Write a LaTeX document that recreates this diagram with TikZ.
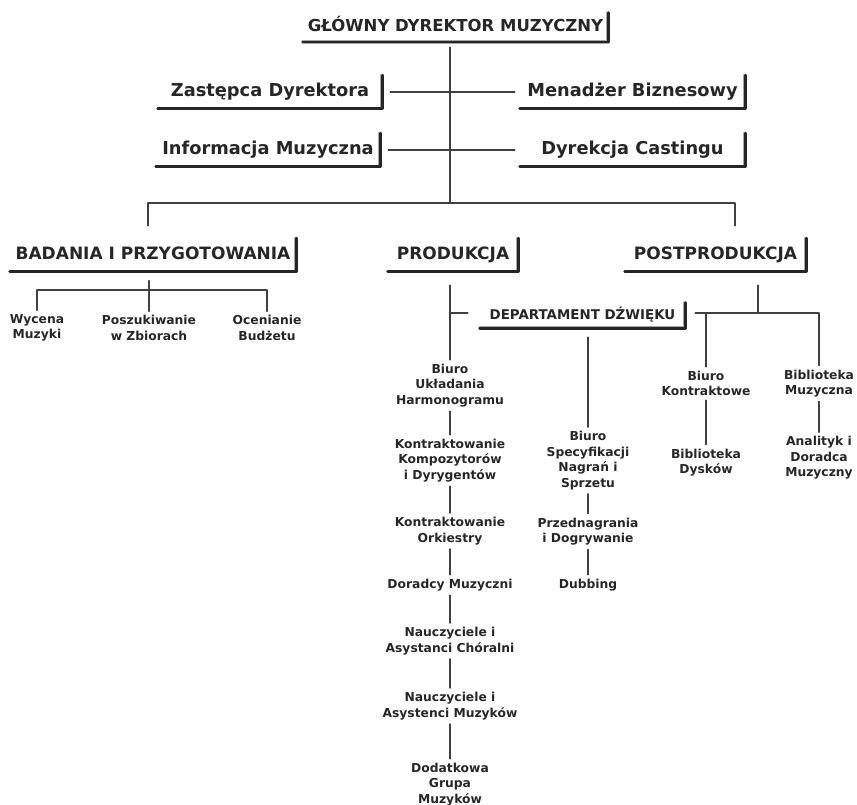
\documentclass[tikz,border=0pt]{standalone}
\usepackage{fontspec}
\setmainfont{DejaVu Sans}
\usepackage{tikz}

\tikzset{
  kafel/.style={font=\bfseries\fontsize{17}{20}\selectfont, text=black!85, inner sep=0pt,
    minimum height=33pt, text height=12.9pt, text depth=4pt},
  maly/.style={font=\bfseries\fontsize{12.3}{15.5}\selectfont, text=black!85, align=center, inner sep=4pt},
  lacz/.style={line width=1.4pt, black!75},
  belka/.style={line width=2.6pt, black!85},
  cien/.style={line width=3.5pt, black!35, xshift=1.5pt, yshift=-2.2pt},
}

\begin{document}
\begin{tikzpicture}[line cap=round,line join=round,x=1pt,y=-1pt]
\useasboundingbox (0,0) rectangle (857,805);
%top of the chart
\node[kafel,minimum width=305pt,minimum height=29pt,font=\bfseries\fontsize{16.5}{20}\selectfont] (gdm) at (455.5,27.5) {GŁÓWNY DYREKTOR MUZYCZNY};
\node[kafel,minimum width=224pt,font=\bfseries\fontsize{17.8}{20}\selectfont] (zast) at (270,92) {Zastępca Dyrektora};
\node[kafel,minimum width=225pt,font=\bfseries\fontsize{17.8}{20}\selectfont] (men) at (632.5,92) {Menadżer Biznesowy};
\node[kafel,minimum width=224pt,font=\bfseries\fontsize{17.8}{20}\selectfont] (info) at (268,150) {Informacja Muzyczna};
\node[kafel,minimum width=225pt,font=\bfseries\fontsize{17.8}{20}\selectfont] (cast) at (632.5,150) {Dyrekcja Castingu};
%departments
\node[kafel,minimum width=286pt] (bad) at (153,255) {BADANIA I PRZYGOTOWANIA};
\node[kafel,minimum width=130pt] (prod) at (453,255) {PRODUKCJA};
\node[kafel,minimum width=181pt] (post) at (715.5,255) {POSTPRODUKCJA};
\node[kafel,minimum width=205pt,minimum height=25pt,font=\bfseries\fontsize{13.4}{16}\selectfont,text height=10.2pt,text depth=3pt] (dd) at (582.5,315.5) {DEPARTAMENT DŹWIĘKU};

%box edges with shadow
\foreach \k in {gdm,zast,men,info,cast,bad,prod,post,dd}{
  \draw[cien] (\k.south west) -- (\k.south east) -- (\k.north east);
  \draw[belka] (\k.south west) -- (\k.south east) -- (\k.north east);
}

%small units
\node[maly] (wyc) at (37,328) {Wycena\\Muzyki};
\node[maly] (posz) at (149,328) {Poszukiwanie\\w Zbiorach};
\node[maly] (ocen) at (267,328) {Ocenianie\\Budżetu};

\node[maly] (bur) at (450,385.5) {Biuro\\Układania\\Harmonogramu};
\node[maly] (kkd) at (450,460.5) {Kontraktowanie\\Kompozytorów\\i Dyrygentów};
\node[maly] (kor) at (450,531) {Kontraktowanie\\Orkiestry};
\node[maly] (dor) at (450,585) {Doradcy Muzyczni};
\node[maly] (nac) at (450,641) {Nauczyciele i\\Asystanci Chóralni};
\node[maly] (nam) at (450,706) {Nauczyciele i\\Asystenci Muzyków};
\node[maly] (dgm) at (450,784.5) {Dodatkowa\\Grupa\\Muzyków};

\node[maly] (spec) at (588,460.5) {Biuro\\Specyfikacji\\Nagrań i\\Sprzetu};
\node[maly] (prz) at (588,531.5) {Przednagrania\\i Dogrywanie};
\node[maly] (dub) at (588,585) {Dubbing};

\node[maly] (bk) at (706,383.5) {Biuro\\Kontraktowe};
\node[maly] (bd) at (706,462.5) {Biblioteka\\Dysków};
\node[maly] (bm) at (819,383.5) {Biblioteka\\Muzyczna};
\node[maly] (an) at (819,458) {Analityk i\\Doradca\\Muzyczny};

%connectors
\coordinate (rozg) at (450,203);
\coordinate (rl) at (148,203);
\coordinate (rp) at (735,203);
\coordinate (bw) at (149,290);
\coordinate (pw) at (450,313);
\coordinate (pj) at (758,313);

\draw[lacz,shorten <=5pt] (gdm.south -| rozg) -- (rozg);
\draw[lacz,shorten <=8pt,shorten >=5pt] (zast.east) -- (men.west);
\draw[lacz,shorten <=8pt,shorten >=5pt] (info.east) -- (cast.west);
\draw[lacz,shorten <=12.5pt,shorten >=12.5pt] (bad.north -| rl) -- (rl) -- (rp) -- (post.north -| rp);

\draw[lacz,shorten <=9pt] (bad.south -| bw) -- (posz.north);
\draw[lacz] (wyc.north) |- (bw) -| (ocen.north);

\draw[lacz,shorten <=13.5pt] (prod.south -| bur) -- (bur.north);
\draw[lacz,shorten >=12pt] (pw) -- (dd.west |- pw);
\foreach \a/\b in {bur/kkd,kkd/kor,kor/dor,dor/nac,nac/nam,nam/dgm,spec/prz,prz/dub,bk/bd,bm/an}
  \draw[lacz] (\a) -- (\b);
\draw[lacz,shorten <=9pt] (dd.south -| spec) -- (spec.north);

\draw[lacz,shorten <=13.5pt] (post.south -| pj) -- (pj);
\draw[lacz,shorten <=10pt] (dd.east |- pj) -- (bm.north |- pj) -- (bm.north);
\draw[lacz] (bk.north |- pj) -- (bk.north);
\end{tikzpicture}
\end{document}
